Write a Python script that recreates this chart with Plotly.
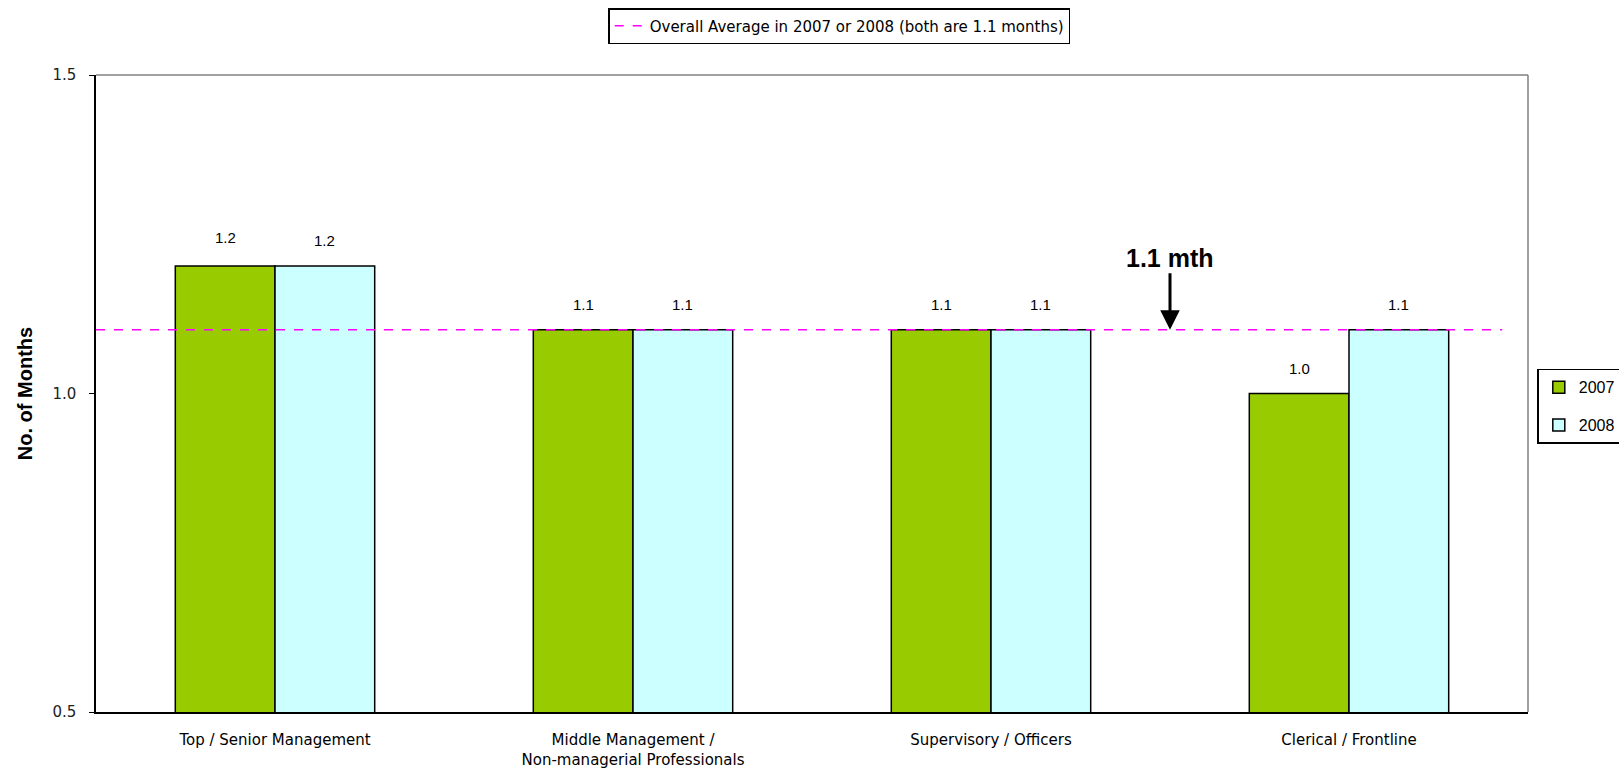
import plotly.graph_objects as go

categories = [
    "Top / Senior Management",
    "Middle Management /<br>Non-managerial Professionals",
    "Supervisory / Officers",
    "Clerical / Frontline",
]
values_2007 = [1.2, 1.1, 1.1, 1.0]
values_2008 = [1.2, 1.1, 1.1, 1.1]
overall_avg = 1.1
avg_label = "Overall Average in 2007 or 2008 (both are 1.1 months)"
arrow_label = "1.1 mth"
y_ticks = [0.5, 1.0, 1.5]

FONT = "Liberation Sans, Arial, sans-serif"
WIDE = "DejaVu Sans, sans-serif"
GREEN = "#99CC00"
CYAN = "#CCFFFF"
BARGAP = 0.443

fig = go.Figure()
fig.add_trace(go.Bar(
    x=categories, y=values_2007, name="2007", legend="legend2", legendgroup="a",
    marker=dict(color=GREEN, line=dict(color="black", width=1.5)),
))
fig.add_trace(go.Bar(
    x=categories, y=values_2008, name="2008", legend="legend2", legendgroup="b",
    marker=dict(color=CYAN, line=dict(color="black", width=1.5)),
))
# average line on a hidden 0..1 overlay axis so it spans the plot width
fig.add_trace(go.Scatter(
    x=[0, 0.982], y=[overall_avg, overall_avg], xaxis="x2", yaxis="y",
    mode="lines", name=avg_label, legend="legend", hoverinfo="skip",
    line=dict(color="#FF00FF", width=1.5, dash="dash"),
))

# plot area border on top and right
fig.add_shape(type="line", xref="paper", yref="paper", x0=0, x1=1, y0=1, y1=1,
              line=dict(color="#808080", width=1.5))
fig.add_shape(type="line", xref="paper", yref="paper", x0=1, x1=1, y0=0, y1=1,
              line=dict(color="#808080", width=1.5))

# value labels above bars
half = (1 - BARGAP) / 4
for i, (a, b) in enumerate(zip(values_2007, values_2008)):
    for off, v, extra in ((-half, a, 4 if a >= 1.2 else 0), (half, b, 1 if b >= 1.2 else 0)):
        fig.add_annotation(x=i + off, y=v, xref="x", yref="y", text=f"{v:.1f}",
                           showarrow=False, yshift=25 + extra,
                           font=dict(family=FONT, size=15, color="black"))

fig.add_annotation(x=2.5, y=overall_avg, xref="x", yref="y", text=f"<b>{arrow_label}</b>",
                   showarrow=True, arrowhead=2, arrowsize=1.3, arrowwidth=3,
                   arrowcolor="black", ax=0, ay=-72,
                   font=dict(family=FONT, size=25, color="black"))

fig.update_layout(
    width=1619, height=784,
    margin=dict(l=96, r=91, t=75, b=72, autoexpand=False),
    paper_bgcolor="white", plot_bgcolor="white",
    showlegend=True,
    barmode="group", bargap=BARGAP, bargroupgap=0,
    font=dict(family=FONT, size=13, color="black"),
    legend=dict(x=0.519, y=1.105, xanchor="center", yanchor="top",
                bordercolor="black", borderwidth=1.5, bgcolor="white",
                font=dict(family=WIDE, size=15)),
    legend2=dict(x=1.0065, y=0.48, xanchor="left", yanchor="middle",
                 bordercolor="black", borderwidth=1.5, bgcolor="white",
                 font=dict(family=FONT, size=16), itemwidth=30,
                 tracegroupgap=14),
    xaxis=dict(showline=True, linecolor="black", linewidth=2, ticks="",
               tickfont=dict(family=WIDE, size=15),
               ticklabelstandoff=13, showgrid=False),
    xaxis2=dict(overlaying="x", range=[0, 1], visible=False),
    yaxis=dict(range=[0.5, 1.5], tickvals=y_ticks, tickformat=".1f",
               showline=True, linecolor="black", linewidth=1.5,
               ticks="outside", ticklen=5, tickcolor="black",
               ticklabelstandoff=10,
               showgrid=False, zeroline=False,
               tickfont=dict(family=WIDE, size=15, color="#222"),
               title=dict(text="<b>No. of Months</b>",
                          font=dict(family=FONT, size=20), standoff=14)),
)

fig.write_html("out.html")
